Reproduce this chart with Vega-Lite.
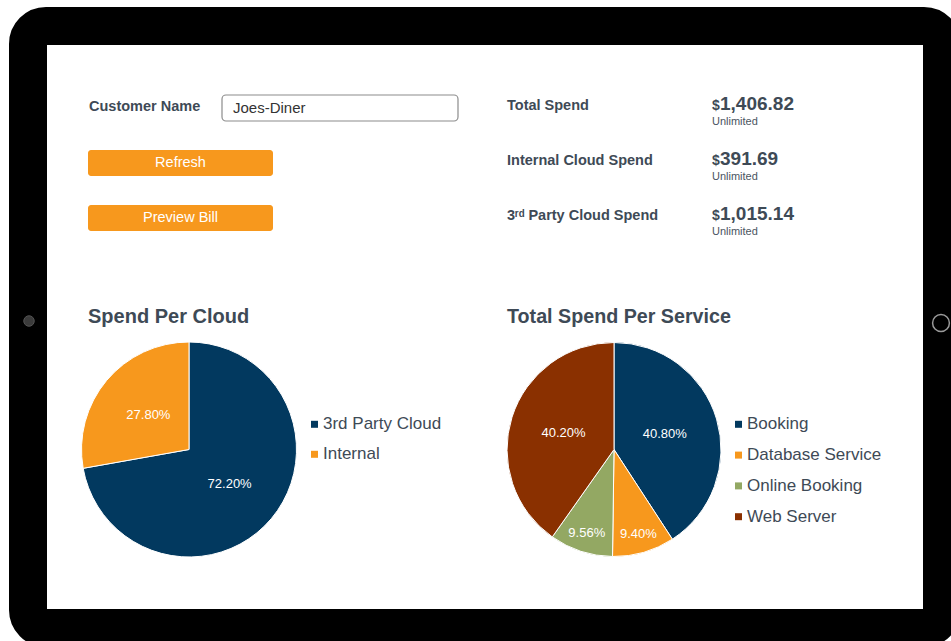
{
  "$schema": "https://vega.github.io/schema/vega-lite/v6.json",
  "width": 914,
  "height": 602,
  "autosize": {"type": "none"},
  "padding": {"left": 28, "top": 26, "right": 9, "bottom": 13},
  "background": "white",
  "config": {
    "font": "Liberation Sans",
    "view": {"fill": "white", "stroke": "#000000", "strokeWidth": 38, "cornerRadius": 18},
    "legend": {"padding": 0, "labelFont": "Liberation Sans", "labelFontSize": 17, "labelColor": "#3e4a56", "symbolType": "square", "symbolSize": 49, "symbolStrokeWidth": 0, "labelOffset": 0}
  },
  "datasets": {
    "clouds": [
      {"cloud": "3rd Party Cloud", "share": 0.722},
      {"cloud": "Internal", "share": 0.278}
    ],
    "services": [
      {"service": "Booking", "share": 0.408},
      {"service": "Database Service", "share": 0.094},
      {"service": "Online Booking", "share": 0.0956},
      {"service": "Web Server", "share": 0.402}
    ],
    "kpis": [
      {"metric": "Total Spend", "amount": 1406.82, "limit": "Unlimited"},
      {"metric": "Internal Cloud Spend", "amount": 391.69, "limit": "Unlimited"},
      {"metric": "3ʳᵈ Party Cloud Spend", "amount": 1015.14, "limit": "Unlimited"}
    ],
    "customer": [{"label": "Customer Name", "name": "Joes-Diner"}],
    "buttons": [{"button": "Refresh"}, {"button": "Preview Bill"}]
  },
  "resolve": {
    "scale": {"color": "independent", "theta": "independent", "y": "independent"},
    "legend": {"color": "independent"}
  },
  "layer": [
    {
      "data": {"name": "customer"},
      "mark": {"type": "rect", "fill": "white", "stroke": "#8c8c8c", "strokeWidth": 1.2, "cornerRadius": 4},
      "encoding": {
        "x": {"datum": 222, "type": "quantitative", "scale": {"domain": [28, 942], "nice": false, "zero": false}, "axis": null},
        "x2": {"datum": 458},
        "y": {"datum": 95, "type": "quantitative", "scale": {"domain": [26, 628], "reverse": true, "nice": false, "zero": false}, "axis": null},
        "y2": {"datum": 121}
      }
    },
    {
      "data": {"name": "customer"},
      "mark": {"type": "text", "align": "left", "baseline": "alphabetic", "fontSize": 14.5, "fontWeight": "bold", "fill": "#3e4a56"},
      "encoding": {
        "x": {"datum": 89, "type": "quantitative", "scale": {"domain": [28, 942], "nice": false, "zero": false}, "axis": null},
        "y": {"datum": 111, "type": "quantitative", "scale": {"domain": [26, 628], "reverse": true, "nice": false, "zero": false}, "axis": null},
        "text": {"field": "label"}
      }
    },
    {
      "data": {"name": "customer"},
      "mark": {"type": "text", "align": "left", "baseline": "alphabetic", "fontSize": 15, "fill": "#333333"},
      "encoding": {
        "x": {"datum": 233, "type": "quantitative", "scale": {"domain": [28, 942], "nice": false, "zero": false}, "axis": null},
        "y": {"datum": 113, "type": "quantitative", "scale": {"domain": [26, 628], "reverse": true, "nice": false, "zero": false}, "axis": null},
        "text": {"field": "name"}
      }
    },
    {
      "data": {"name": "buttons"},
      "mark": {"type": "rect", "fill": "#f7981d", "cornerRadius": 3},
      "encoding": {
        "x": {"datum": 88, "type": "quantitative", "scale": {"domain": [28, 942], "nice": false, "zero": false}, "axis": null},
        "x2": {"datum": 273},
        "y": {"field": "button", "type": "nominal", "sort": null, "scale": {"type": "band", "range": [124, 205], "paddingInner": 0.527, "paddingOuter": 0}, "axis": null}
      }
    },
    {
      "data": {"name": "buttons"},
      "mark": {"type": "text", "align": "center", "baseline": "middle", "fontSize": 14.5, "fill": "white"},
      "encoding": {
        "x": {"datum": 180.5, "type": "quantitative", "scale": {"domain": [28, 942], "nice": false, "zero": false}, "axis": null},
        "y": {"field": "button", "type": "nominal", "sort": null, "scale": {"type": "band", "range": [124, 205], "paddingInner": 0.527, "paddingOuter": 0}, "axis": null},
        "text": {"field": "button"}
      }
    },
    {
      "data": {"name": "kpis"},
      "mark": {"type": "text", "align": "left", "baseline": "alphabetic", "fontSize": 14.5, "fontWeight": "bold", "fill": "#3e4a56"},
      "encoding": {
        "x": {"datum": 507, "type": "quantitative", "scale": {"domain": [28, 942], "nice": false, "zero": false}, "axis": null},
        "y": {"field": "metric", "type": "nominal", "sort": null, "scale": {"type": "point", "range": [84, 194], "padding": 0}, "axis": null},
        "text": {"field": "metric"}
      }
    },
    {
      "data": {"name": "kpis"},
      "mark": {"type": "text", "align": "left", "baseline": "alphabetic", "fontSize": 14, "fontWeight": "bold", "fill": "#3e4a56"},
      "encoding": {
        "x": {"datum": 712, "type": "quantitative", "scale": {"domain": [28, 942], "nice": false, "zero": false}, "axis": null},
        "y": {"field": "metric", "type": "nominal", "sort": null, "scale": {"type": "point", "range": [84, 194], "padding": 0}, "axis": null},
        "text": {"value": "$"}
      }
    },
    {
      "data": {"name": "kpis"},
      "mark": {"type": "text", "align": "left", "baseline": "alphabetic", "fontSize": 19, "fontWeight": "bold", "fill": "#3e4a56"},
      "encoding": {
        "x": {"datum": 720, "type": "quantitative", "scale": {"domain": [28, 942], "nice": false, "zero": false}, "axis": null},
        "y": {"field": "metric", "type": "nominal", "sort": null, "scale": {"type": "point", "range": [84, 194], "padding": 0}, "axis": null},
        "text": {"field": "amount", "type": "quantitative", "format": ",.2f"}
      }
    },
    {
      "data": {"name": "kpis"},
      "mark": {"type": "text", "align": "left", "baseline": "alphabetic", "fontSize": 11, "dy": 15, "fill": "#4a5561"},
      "encoding": {
        "x": {"datum": 712, "type": "quantitative", "scale": {"domain": [28, 942], "nice": false, "zero": false}, "axis": null},
        "y": {"field": "metric", "type": "nominal", "sort": null, "scale": {"type": "point", "range": [84, 194], "padding": 0}, "axis": null},
        "text": {"field": "limit"}
      }
    },
    {
      "data": {"values": [{"t": "Spend Per Cloud"}]},
      "mark": {"type": "text", "align": "left", "baseline": "alphabetic", "fontSize": 20, "fontWeight": "bold", "fill": "#3e4a56"},
      "encoding": {
        "x": {"datum": 88, "type": "quantitative", "scale": {"domain": [28, 942], "nice": false, "zero": false}, "axis": null},
        "y": {"datum": 323, "type": "quantitative", "scale": {"domain": [26, 628], "reverse": true, "nice": false, "zero": false}, "axis": null},
        "text": {"field": "t"}
      }
    },
    {
      "data": {"values": [{"t": "Total Spend Per Service"}]},
      "mark": {"type": "text", "align": "left", "baseline": "alphabetic", "fontSize": 19.7, "fontWeight": "bold", "fill": "#3e4a56"},
      "encoding": {
        "x": {"datum": 507, "type": "quantitative", "scale": {"domain": [28, 942], "nice": false, "zero": false}, "axis": null},
        "y": {"datum": 323, "type": "quantitative", "scale": {"domain": [26, 628], "reverse": true, "nice": false, "zero": false}, "axis": null},
        "text": {"field": "t"}
      }
    },
    {
      "data": {"name": "clouds"},
      "mark": {"type": "arc", "radius": 107.5, "stroke": "white", "strokeWidth": 1},
      "encoding": {
        "x": {"datum": 189, "type": "quantitative", "scale": {"domain": [28, 942], "nice": false, "zero": false}, "axis": null},
        "y": {"datum": 449.5, "type": "quantitative", "scale": {"domain": [26, 628], "reverse": true, "nice": false, "zero": false}, "axis": null},
        "theta": {"field": "share", "type": "quantitative", "stack": true},
        "order": {"field": "cloud", "type": "ordinal", "sort": "ascending"},
        "color": {"field": "cloud", "type": "nominal", "scale": {"domain": ["3rd Party Cloud", "Internal"], "range": ["#02395f", "#f7981d"]},
          "legend": {"orient": "none", "legendX": 278, "legendY": 389.8, "title": null, "rowPadding": 12}}
      }
    },
    {
      "data": {"name": "clouds"},
      "mark": {"type": "text", "radius": 53, "fill": "white", "fontSize": 13, "align": "center", "baseline": "middle"},
      "encoding": {
        "x": {"datum": 189, "type": "quantitative", "scale": {"domain": [28, 942], "nice": false, "zero": false}, "axis": null},
        "y": {"datum": 449.5, "type": "quantitative", "scale": {"domain": [26, 628], "reverse": true, "nice": false, "zero": false}, "axis": null},
        "theta": {"field": "share", "type": "quantitative", "stack": true},
        "order": {"field": "cloud", "type": "ordinal", "sort": "ascending"},
        "detail": {"field": "cloud", "type": "nominal"},
        "text": {"field": "share", "type": "quantitative", "format": ".2%"}
      }
    },
    {
      "data": {"name": "services"},
      "mark": {"type": "arc", "radius": 107, "stroke": "white", "strokeWidth": 1},
      "encoding": {
        "x": {"datum": 614, "type": "quantitative", "scale": {"domain": [28, 942], "nice": false, "zero": false}, "axis": null},
        "y": {"datum": 449.5, "type": "quantitative", "scale": {"domain": [26, 628], "reverse": true, "nice": false, "zero": false}, "axis": null},
        "theta": {"field": "share", "type": "quantitative", "stack": true},
        "order": {"field": "service", "type": "ordinal", "sort": "ascending"},
        "color": {"field": "service", "type": "nominal", "scale": {"domain": ["Booking", "Database Service", "Online Booking", "Web Server"], "range": ["#02395f", "#f7981d", "#93a863", "#8a3000"]},
          "legend": {"orient": "none", "legendX": 702, "legendY": 389.8, "title": null, "rowPadding": 12.8}}
      }
    },
    {
      "data": {"name": "services"},
      "mark": {"type": "text", "fill": "white", "fontSize": 13, "align": "center", "baseline": "middle", "radius": {"expr": "datum.share < 0.2 ? 88 : 53"}},
      "encoding": {
        "x": {"datum": 614, "type": "quantitative", "scale": {"domain": [28, 942], "nice": false, "zero": false}, "axis": null},
        "y": {"datum": 449.5, "type": "quantitative", "scale": {"domain": [26, 628], "reverse": true, "nice": false, "zero": false}, "axis": null},
        "theta": {"field": "share", "type": "quantitative", "stack": true},
        "order": {"field": "service", "type": "ordinal", "sort": "ascending"},
        "detail": {"field": "service", "type": "nominal"},
        "text": {"field": "share", "type": "quantitative", "format": ".2%"}
      }
    },
    {
      "data": {"values": [{"part": "camera"}]},
      "mark": {"type": "point", "shape": "circle", "filled": true, "size": 110, "fill": "#555555", "stroke": "#777777", "strokeWidth": 1},
      "encoding": {
        "x": {"datum": 29, "type": "quantitative", "scale": {"domain": [28, 942], "nice": false, "zero": false}, "axis": null},
        "y": {"datum": 321, "type": "quantitative", "scale": {"domain": [26, 628], "reverse": true, "nice": false, "zero": false}, "axis": null}
      }
    },
    {
      "data": {"values": [{"part": "home"}]},
      "mark": {"type": "point", "shape": "circle", "filled": false, "size": 283, "stroke": "#9a9a9a", "strokeWidth": 1.5, "opacity": 1},
      "encoding": {
        "x": {"datum": 941, "type": "quantitative", "scale": {"domain": [28, 942], "nice": false, "zero": false}, "axis": null},
        "y": {"datum": 323, "type": "quantitative", "scale": {"domain": [26, 628], "reverse": true, "nice": false, "zero": false}, "axis": null}
      }
    }
  ]
}
